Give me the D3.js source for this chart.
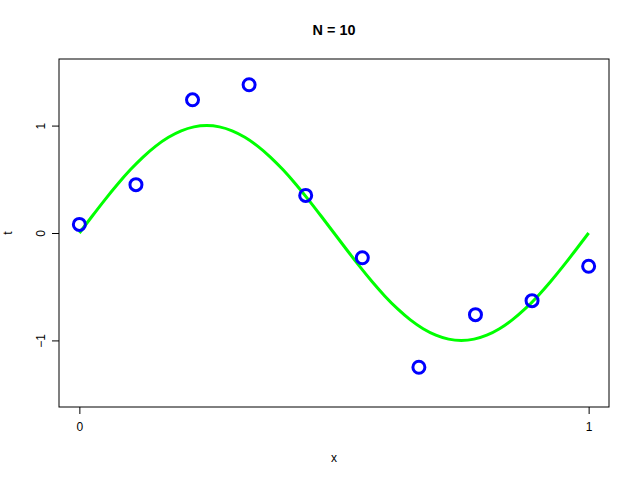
<!DOCTYPE html>
<html><head><meta charset="utf-8">
<script src="https://cdn.jsdelivr.net/npm/d3@7"></script>
<style>body{margin:0;background:#fff}svg{display:block}text{font-family:"Liberation Sans",Arial,sans-serif}</style>
</head><body>
<script>
const pointX = [0, 0.1111, 0.2222, 0.3333, 0.4444, 0.5556, 0.6667, 0.7778, 0.8889, 1];
const pointT = [0.08, 0.45, 1.24, 1.38, 0.35, -0.23, -1.25, -0.76, -0.63, -0.31];
const curveX = [0,0.025,0.05,0.075,0.1,0.125,0.15,0.175,0.2,0.225,0.25,0.275,0.3,0.325,0.35,0.375,0.4,0.425,0.45,0.475,0.5,0.525,0.55,0.575,0.6,0.625,0.65,0.675,0.7,0.725,0.75,0.775,0.8,0.825,0.85,0.875,0.9,0.925,0.95,0.975,1];
const curveT = [0,0.156,0.309,0.454,0.588,0.707,0.809,0.891,0.951,0.988,1,0.988,0.951,0.891,0.809,0.707,0.588,0.454,0.309,0.156,0,-0.156,-0.309,-0.454,-0.588,-0.707,-0.809,-0.891,-0.951,-0.988,-1,-0.988,-0.951,-0.891,-0.809,-0.707,-0.588,-0.454,-0.309,-0.156,0];
const xTicks = [0, 1];
const yTicks = [-1, 0, 1];
const title = "N = 10";

const W = 640, H = 480;
const L = 59, R = 609, T = 59, B = 407;
const svg = d3.select("body").append("svg").attr("width", W).attr("height", H);
const x = d3.scaleLinear().domain([-0.04, 1.04]).range([L, R]);
const y = d3.scaleLinear().domain([-1.62, 1.62]).range([B, T]);

svg.append("rect").attr("x", L).attr("y", T).attr("width", R - L).attr("height", B - T)
  .attr("fill", "none").attr("stroke", "#000").attr("stroke-width", 1);

const line = d3.line().x((d, i) => x(curveX[i])).y(d => y(d)).curve(d3.curveNatural);
svg.append("path").attr("d", line(curveT)).attr("fill", "none").attr("stroke", "#00ff00").attr("stroke-width", 3);

svg.selectAll("circle.pt").data(pointT).enter().append("circle")
  .attr("cx", (d, i) => x(pointX[i])).attr("cy", d => y(d)).attr("r", 6)
  .attr("fill", "none").attr("stroke", "#0000ff").attr("stroke-width", 3);

const xAxis = svg.append("g").attr("transform", `translate(0,${B})`)
  .call(d3.axisBottom(x).tickValues(xTicks).tickFormat(d3.format("d")).tickSize(7).tickPadding(8));
xAxis.select(".domain").remove();
xAxis.selectAll("text").attr("font-size", 12).attr("font-family", "Liberation Sans, Arial, sans-serif").attr("dy", "0.71em").attr("y", 15);

const yAxis = svg.append("g").attr("transform", `translate(${L},0)`)
  .call(d3.axisLeft(y).tickValues(yTicks).tickFormat(d3.format("d")).tickSize(7));
yAxis.select(".domain").remove();
yAxis.selectAll("text").attr("font-size", 12).attr("font-family", "Liberation Sans, Arial, sans-serif")
  .attr("x", null).attr("dy", null).attr("text-anchor", "middle")
  .attr("transform", "translate(-18,0) rotate(-90)").attr("y", 0).attr("dominant-baseline", "central");

svg.append("text").attr("x", (L + R) / 2).attr("y", 35).attr("text-anchor", "middle")
  .attr("font-size", 14.4).attr("font-weight", "bold").text(title);
svg.append("text").attr("x", (L + R) / 2).attr("y", 462).attr("text-anchor", "middle")
  .attr("font-size", 12).text("x");
svg.append("text").attr("transform", `translate(12,${(T + B) / 2}) rotate(-90)`).attr("text-anchor", "middle")
  .attr("font-size", 12).text("t");
</script>
</body></html>
